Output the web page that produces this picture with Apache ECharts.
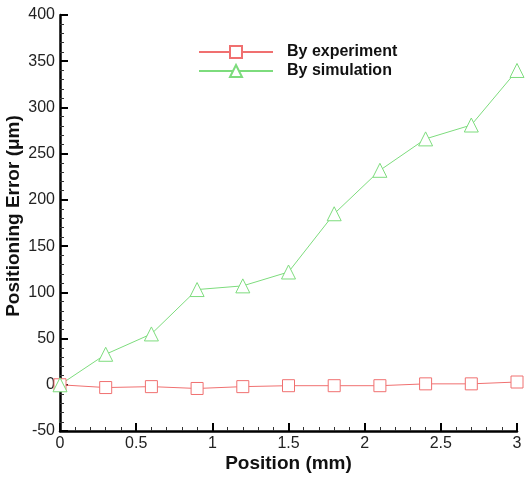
<!DOCTYPE html>
<html><head><meta charset="utf-8">
<script src="https://cdn.jsdelivr.net/npm/echarts@6/dist/echarts.min.js"></script>
<style>html,body{margin:0;padding:0;background:#fff}#c{width:525px;height:477px}</style>
</head><body><div id="c"></div>
<script>
const positions = [0, 0.3, 0.6, 0.9, 1.2, 1.5, 1.8, 2.1, 2.4, 2.7, 3.0];
const experiment = [0, -3, -2, -4, -2, -1, -1, -1, 1, 1, 3];
const simulation = [0, 33, 55, 103, 107, 122, 185, 232, 266, 281, 340];
const xTicks = [0, 0.5, 1, 1.5, 2, 2.5, 3];
const yTicks = [-50, 0, 50, 100, 150, 200, 250, 300, 350, 400];

const chart = echarts.init(document.getElementById('c'));
const pair = (ys) => positions.map((x, i) => [x, ys[i]]);
chart.setOption({
  animation: false,
  grid: {left: 60, right: 8, top: 15, bottom: 46, outerBoundsMode: 'none', containLabel: false},
  legend: {
    orient: 'vertical', left: 193, top: 39, itemGap: 3,
    itemWidth: 74, itemHeight: 15,
    textStyle: {fontFamily: 'Liberation Sans', fontWeight: 'bold', fontSize: 16, color: '#111', padding: [0, 0, 0, 9]},
    data: ['By experiment', 'By simulation']
  },
  xAxis: {
    type: 'value', min: 0, max: 3, interval: 0.5,
    name: 'Position (mm)', nameLocation: 'middle', nameGap: 23, nameMoveOverlap: false,
    nameTextStyle: {fontFamily: 'Liberation Sans', fontWeight: 'bold', fontSize: 19, color: '#111'},
    axisLine: {onZero: false, lineStyle: {color: '#000', width: 2.5}},
    axisTick: {show: true, inside: true, length: 8, lineStyle: {color: '#000', width: 2}},
    minorTick: {show: true, splitNumber: 5, length: 4, lineStyle: {color: '#333', width: 1}},
    splitLine: {show: false},
    axisLabel: {fontFamily: 'Liberation Sans', fontSize: 16, color: '#222', margin: 5,
      formatter: v => xTicks.includes(v) ? String(v) : ''}
  },
  yAxis: {
    type: 'value', min: -50, max: 400, interval: 50,
    name: 'Positioning Error (μm)', nameLocation: 'middle', nameGap: 37, nameMoveOverlap: false,
    nameTextStyle: {fontFamily: 'Liberation Sans', fontWeight: 'bold', fontSize: 19, color: '#111', padding: [0, 0, 0, 14]},
    axisLine: {show: true, onZero: false, lineStyle: {color: '#000', width: 2.5}},
    axisTick: {show: true, inside: true, length: 8, lineStyle: {color: '#000', width: 2}},
    minorTick: {show: true, splitNumber: 5, length: 4, lineStyle: {color: '#333', width: 1}},
    splitLine: {show: false},
    axisLabel: {fontFamily: 'Liberation Sans', fontSize: 16, color: '#222', margin: 5,
      formatter: v => yTicks.includes(v) ? String(v) : ''}
  },
  series: [
    {name: 'By experiment', type: 'line', data: pair(experiment),
      symbol: 'rect', symbolSize: 12, showAllSymbol: true,
      lineStyle: {color: '#f07070', width: 1},
      itemStyle: {color: '#fff', borderColor: '#f07070', borderWidth: 1},
      color: '#f07070'},
    {name: 'By simulation', type: 'line', data: pair(simulation),
      symbol: 'triangle', symbolSize: 14, showAllSymbol: true,
      lineStyle: {color: '#7ddc7d', width: 1},
      itemStyle: {color: '#fff', borderColor: '#7ddc7d', borderWidth: 1},
      color: '#7ddc7d'}
  ]
});
</script></body></html>
